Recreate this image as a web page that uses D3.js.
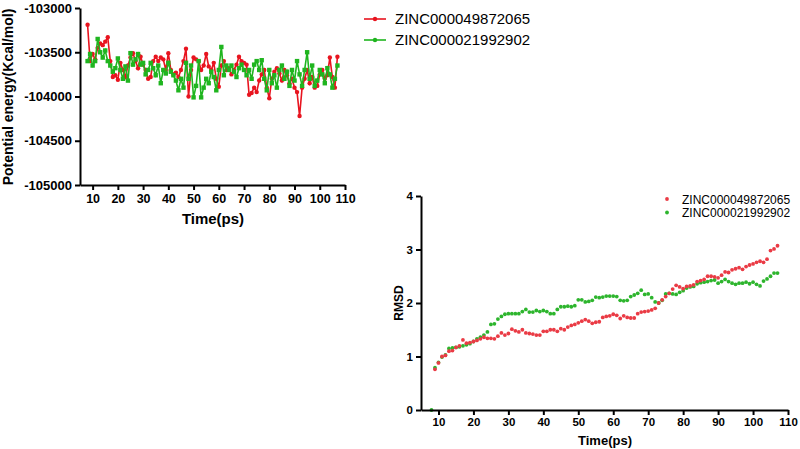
<!DOCTYPE html>
<html>
<head>
<meta charset="utf-8">
<script src="https://cdn.jsdelivr.net/npm/d3@7"></script>
<style>
  body { margin: 0; background: #fff; }
  svg { display: block; font-family: "Liberation Sans", Arial, sans-serif; }
  .axis path, .axis line { stroke: #000; stroke-width: 2; }
  .axis text { font-weight: bold; fill: #000; }
</style>
</head>
<body>
<svg id="chart" width="800" height="449"></svg>
<script>
// ---- data ----
var seriesNames = ["ZINC000049872065", "ZINC000021992902"];
var timeStart = 8;   // ps, one frame per ps

var energyRed = [
  -103190, -103600, -103520, -103580, -103450, -103400, -103420, -103380, -103330, -103600,
  -103780, -103760, -103810, -103620, -103700, -103780, -103650, -103560, -103510, -103600,
  -103680, -103550, -103640, -103700, -103800, -103780, -103600, -103550, -103600, -103560,
  -103580, -103700, -103510, -103700, -103750, -103730, -103780, -103700, -103600, -103460,
  -104000, -103700, -103560, -103580, -103600, -103700, -103650, -103520, -103660, -103700,
  -103620, -103800, -103890, -103650, -103600, -103700, -103680, -103750, -103700, -103640,
  -103550, -103600, -103620, -103640, -103980, -103960, -103900, -103950, -103820, -103750,
  -103700, -103900, -104020, -103800, -103720, -103680, -103740, -103820, -103700, -103760,
  -103850, -103800, -103900, -103950, -104220, -103900, -103800, -103700, -103850, -103780,
  -103900, -103880, -103750, -103700, -103800, -103760, -103560, -103780, -103900, -103550
];
var energyGreen = [
  -103600, -103520, -103650, -103600, -103350, -103500, -103560, -103480, -103600, -103650,
  -103720, -103680, -103570, -103700, -103800, -103660, -103820, -103510, -103640, -103580,
  -103520, -103640, -103620, -103750, -103700, -103620, -103680, -103760, -103650, -103850,
  -103700, -103740, -103620, -103720, -103760, -103820, -103930, -103800, -103900, -103620,
  -103800, -103650, -104010, -103880, -103600, -104010, -103900, -103800, -103850, -103720,
  -103780, -103930, -103700, -103440, -103760, -103650, -103700, -103650, -103720, -103780,
  -103680, -103640, -103700, -103760, -103700, -103800, -103640, -103600, -103700, -103590,
  -103800, -103930, -103700, -103850, -103760, -103900, -103700, -103650, -103800, -103720,
  -103880, -103700, -103820, -103600, -103750, -103880, -103700, -103500, -103800, -103650,
  -103880, -103820, -103700, -103750, -103850, -103680, -103750, -103900, -103800, -103650
];

// RMSD, red starts at 9 ps, green at 8 ps
var rmsdRed = [
  0.76, 0.88, 1.00, 1.02, 1.10, 1.11, 1.17, 1.20, 1.31, 1.25,
  1.26, 1.28, 1.30, 1.33, 1.36, 1.34, 1.34, 1.33, 1.38, 1.44,
  1.40, 1.43, 1.51, 1.48, 1.46, 1.50, 1.44, 1.43, 1.42, 1.40,
  1.40, 1.47, 1.47, 1.50, 1.50, 1.47, 1.52, 1.50, 1.55, 1.58,
  1.60, 1.63, 1.66, 1.69, 1.66, 1.62, 1.64, 1.65, 1.73, 1.75,
  1.76, 1.79, 1.77, 1.71, 1.76, 1.73, 1.72, 1.72, 1.80, 1.83,
  1.84, 1.85, 1.87, 1.90, 2.00, 2.06, 2.12, 2.18, 2.26, 2.33,
  2.30, 2.27, 2.31, 2.32, 2.34, 2.40, 2.42, 2.44, 2.50, 2.50,
  2.49, 2.47, 2.52, 2.58, 2.57, 2.62, 2.64, 2.66, 2.63, 2.68,
  2.71, 2.73, 2.76, 2.78, 2.76, 2.82, 2.98, 3.01, 3.07
];
var rmsdGreen = [
  0.00, 0.79, 0.89, 0.99, 1.03, 1.15, 1.16, 1.17, 1.18, 1.20,
  1.22, 1.24, 1.28, 1.33, 1.36, 1.40, 1.46, 1.60, 1.61, 1.70,
  1.75, 1.79, 1.80, 1.80, 1.80, 1.80, 1.84, 1.88, 1.83, 1.83,
  1.86, 1.84, 1.86, 1.84, 1.80, 1.80, 1.88, 1.93, 1.93, 1.94,
  1.93, 1.95, 2.06, 2.06, 2.02, 2.03, 2.05, 2.11, 2.10, 2.11,
  2.13, 2.13, 2.13, 2.12, 2.05, 2.04, 2.05, 2.12, 2.15, 2.18,
  2.24, 2.16, 2.17, 2.10, 2.02, 2.00, 2.05, 2.17, 2.18, 2.17,
  2.16, 2.20, 2.23, 2.28, 2.30, 2.31, 2.36, 2.38, 2.39, 2.40,
  2.42, 2.43, 2.37, 2.40, 2.44, 2.40, 2.37, 2.35, 2.37, 2.37,
  2.39, 2.36, 2.39, 2.35, 2.32, 2.41, 2.45, 2.50, 2.56, 2.56
];

var xTicks = [10, 20, 30, 40, 50, 60, 70, 80, 90, 100, 110];
var energyTicks = [-105000, -104500, -104000, -103500, -103000];
var rmsdTicks = [0, 1, 2, 3, 4];

var red = "#e8141f", green = "#1fb51f";
var redDot = "#ea3b45", greenDot = "#2db52d";

function toPoints(vals, start) {
  return vals.map(function(v, i) { return {t: start + i, v: v}; });
}
// plain hyphen minus like the original figure
function plain(d) { return String(d); }

var svg = d3.select("#chart");

// ---- top chart: potential energy ----
var gTop = svg.append("g");
var x1 = d3.scaleLinear().domain([5, 110]).range([80, 345]);
var y1 = d3.scaleLinear().domain([-105000, -103000]).range([185, 8]);

var line1 = d3.line()
  .x(function(d) { return x1(d.t); })
  .y(function(d) { return y1(d.v); });

var topSeries = [
  {name: seriesNames[0], color: red, pts: toPoints(energyRed, timeStart), shape: "circle"},
  {name: seriesNames[1], color: green, pts: toPoints(energyGreen, timeStart), shape: "square"}
];

topSeries.forEach(function(s) {
  gTop.append("path")
    .datum(s.pts)
    .attr("fill", "none")
    .attr("stroke", s.color)
    .attr("stroke-width", 1.6)
    .attr("d", line1);
  if (s.shape == "circle") {
    gTop.selectAll(null).data(s.pts).enter().append("circle")
      .attr("cx", function(d) { return x1(d.t); })
      .attr("cy", function(d) { return y1(d.v); })
      .attr("r", 2.2)
      .attr("fill", s.color);
  } else {
    gTop.selectAll(null).data(s.pts).enter().append("rect")
      .attr("x", function(d) { return x1(d.t) - 2.2; })
      .attr("y", function(d) { return y1(d.v) - 2.2; })
      .attr("width", 4.4).attr("height", 4.4)
      .attr("fill", s.color);
  }
});

var xAxis1 = gTop.append("g").attr("class", "axis")
  .attr("transform", "translate(0,185)")
  .call(d3.axisBottom(x1).tickValues(xTicks).tickFormat(plain).tickSize(5).tickSizeOuter(0).tickPadding(4));
xAxis1.selectAll("text").style("font-size", "12.5px");

var yAxis1 = gTop.append("g").attr("class", "axis")
  .attr("transform", "translate(80,0)")
  .call(d3.axisLeft(y1).tickValues(energyTicks).tickFormat(plain).tickSize(5).tickSizeOuter(0).tickPadding(3));
yAxis1.selectAll("text").style("font-size", "13px");

gTop.append("text")
  .attr("x", 213).attr("y", 224)
  .attr("text-anchor", "middle")
  .style("font-size", "15px").style("font-weight", "bold")
  .text("Time(ps)");

gTop.append("text")
  .attr("transform", "translate(13,97) rotate(-90)")
  .attr("text-anchor", "middle")
  .style("font-size", "14px").style("font-weight", "bold")
  .text("Potential energy(Kcal/mol)");

// legend
topSeries.forEach(function(s, i) {
  var ly = 19 + i * 21;
  gTop.append("line")
    .attr("x1", 364).attr("x2", 386).attr("y1", ly).attr("y2", ly)
    .attr("stroke", s.color).attr("stroke-width", 1.6);
  gTop.append("circle").attr("cx", 375).attr("cy", ly).attr("r", 2.2).attr("fill", s.color);
  gTop.append("text")
    .attr("x", 395).attr("y", ly + 5)
    .style("font-size", "15px")
    .text(s.name);
});

// ---- bottom chart: RMSD ----
var gBot = svg.append("g");
var x2 = d3.scaleLinear().domain([5, 110]).range([421, 788]);
var y2 = d3.scaleLinear().domain([0, 4]).range([410, 196]);

var botSeries = [
  {name: seriesNames[0], color: redDot, pts: toPoints(rmsdRed, timeStart + 1)},
  {name: seriesNames[1], color: greenDot, pts: toPoints(rmsdGreen, timeStart)}
];

botSeries.slice().reverse().forEach(function(s) {
  gBot.selectAll(null).data(s.pts).enter().append("circle")
    .attr("cx", function(d) { return x2(d.t); })
    .attr("cy", function(d) { return y2(d.v); })
    .attr("r", 1.9)
    .attr("fill", s.color);
});

var xAxis2 = gBot.append("g").attr("class", "axis")
  .attr("transform", "translate(0,410)")
  .call(d3.axisBottom(x2).tickValues(xTicks).tickFormat(plain).tickSize(5).tickSizeOuter(0).tickPadding(3));
xAxis2.selectAll("text").style("font-size", "11.5px");

var yAxis2 = gBot.append("g").attr("class", "axis")
  .attr("transform", "translate(421,0)")
  .call(d3.axisLeft(y2).tickValues(rmsdTicks).tickFormat(plain).tickSize(5).tickSizeOuter(0).tickPadding(3));
yAxis2.selectAll("text").style("font-size", "11.5px");

gBot.append("text")
  .attr("x", 605).attr("y", 445)
  .attr("text-anchor", "middle")
  .style("font-size", "13px").style("font-weight", "bold")
  .text("Time(ps)");

gBot.append("text")
  .attr("transform", "translate(403,303) rotate(-90)")
  .attr("text-anchor", "middle")
  .style("font-size", "12px").style("font-weight", "bold")
  .text("RMSD");

botSeries.forEach(function(s, i) {
  var ly = 199 + i * 13.5;
  gBot.append("circle").attr("cx", 667).attr("cy", ly).attr("r", 1.9).attr("fill", s.color);
  gBot.append("text")
    .attr("x", 682).attr("y", ly + 4.5)
    .style("font-size", "12px")
    .text(s.name);
});
</script>
</body>
</html>
